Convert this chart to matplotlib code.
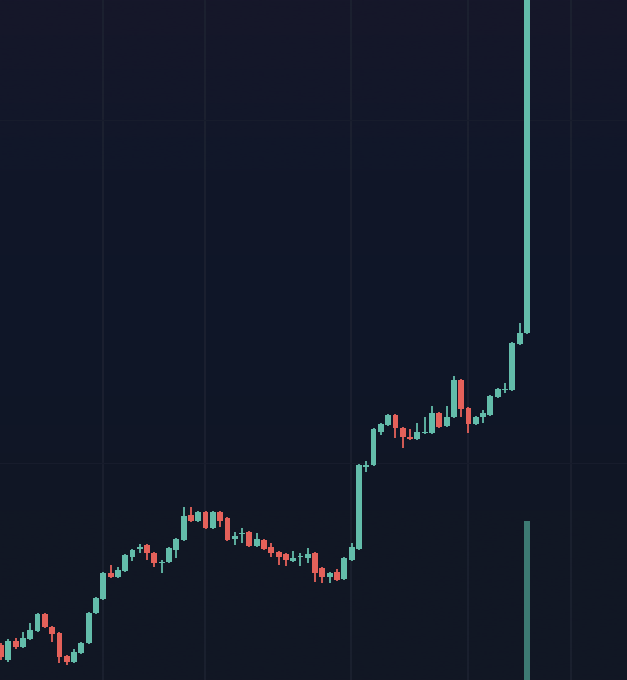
import numpy as np
import matplotlib
matplotlib.use("Agg")
import matplotlib.pyplot as plt
from matplotlib.colors import LinearSegmentedColormap

# velas (unidades arbitrarias de precio)
opens = [35, 20, 39, 33, 41, 49, 66, 53, 47, 24, 18, 27, 37, 67, 81, 107, 103, 109, 123, 131,
         135, 127, 117, 118, 130, 140, 165, 159, 168, 152, 168, 162, 141, 146, 148, 134, 140, 133, 128, 126,
         119, 123, 122, 127, 112, 103, 108, 101, 120, 131, 213, 215, 248, 255, 265, 252, 243, 241, 247, 247,
         267, 254, 263, 300, 272, 256, 263, 265, 283, 290, 290, 336, 347]
highs = [37, 41, 42, 48, 57, 67, 67, 54, 48, 25, 31, 38, 68, 83, 108, 115, 113, 126, 131, 136,
         136, 128, 120, 133, 142, 173, 173, 169, 169, 169, 169, 163, 148, 152, 149, 147, 141, 137, 129, 127,
         129, 127, 132, 128, 113, 108, 111, 123, 137, 216, 219, 252, 257, 266, 266, 253, 251, 257, 263, 274,
         268, 274, 304, 301, 273, 264, 270, 285, 292, 297, 338, 357, 710]
lows = [20, 18, 31, 32, 40, 48, 52, 38, 17, 15, 17, 26, 36, 66, 80, 102, 102, 108, 119, 127,
        120, 113, 107, 117, 122, 139, 158, 158, 151, 151, 153, 139, 135, 137, 133, 133, 130, 123, 115, 114,
        118, 114, 117, 98, 97, 97, 99, 100, 119, 130, 208, 214, 245, 254, 242, 232, 240, 240, 246, 246,
        252, 253, 262, 263, 247, 255, 257, 264, 282, 287, 289, 335, 346]
closes = [23, 39, 33, 42, 50, 66, 53, 46, 23, 18, 28, 37, 67, 82, 107, 103, 110, 125, 130, 133,
          127, 117, 118, 132, 141, 164, 159, 168, 152, 168, 159, 140, 144, 147, 134, 141, 131, 127, 123, 120,
          122, 124, 126, 107, 103, 107, 100, 122, 133, 215, 215, 251, 256, 265, 252, 243, 241, 248, 248, 267,
          253, 263, 300, 271, 256, 263, 267, 284, 291, 291, 337, 347, 700]

# unica barra de volumen visible (ultima vela)
vol_idx = [72]
vol_val = [159]

verde = "#63bcaa"
rojo = "#e4615a"
vol_color = "#3d7a73"

fig = plt.figure(figsize=(6.27, 6.8), dpi=100)
ax = fig.add_axes([0, 0, 1, 1])

# fondo con degradado suave
cmap = LinearSegmentedColormap.from_list(
    "fondo", ["#121724", "#111725", "#0f1628", "#111729", "#16172a"])
grad = np.linspace(0, 1, 256).reshape(-1, 1)
xl = (-0.14, 85.7)
yl = (0, 680)
ax.imshow(grad, aspect="auto", cmap=cmap, origin="lower",
          extent=(xl[0], xl[1], yl[0], yl[1]), zorder=0)

# lineas de rejilla verticales
for gx in [13.95, 27.9, 47.9, 64.0, 78.1]:
    ax.axvline(gx, color="#1d2231", lw=1.2, zorder=1)
for gy in [560, 217]:
    ax.axhline(gy, color="#171c2c", lw=0.8, zorder=1)

x = np.arange(len(opens))
o = np.array(opens)
c = np.array(closes)
h = np.array(highs)
l = np.array(lows)
sube = c >= o
colores = np.where(sube, verde, rojo)

ax.vlines(x, l, h, colors=colores, lw=1.3, zorder=2)
ax.bar(x, np.maximum(np.abs(c - o), 1.2), bottom=np.minimum(o, c), width=0.8,
       color=colores, zorder=3)

ax.bar(vol_idx, vol_val, width=0.8, color=vol_color, zorder=2)

ax.set_xlim(*xl)
ax.set_ylim(*yl)
ax.axis("off")

fig.savefig("out.png", dpi=100)
